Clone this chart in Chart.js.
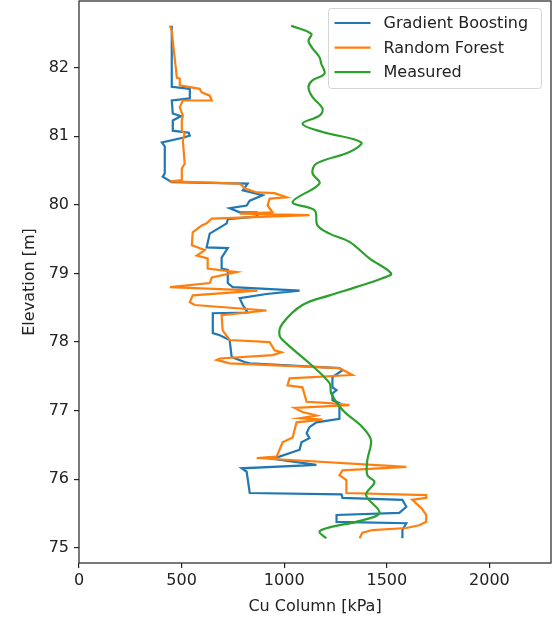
<!DOCTYPE html>
<html>
<head>
<meta charset="utf-8">
<script src="https://cdn.jsdelivr.net/npm/chart.js@4"></script>
<style>
  html, body { margin: 0; padding: 0; background: #fff; }
  #c { display: block; }
</style>
</head>
<body>
<canvas id="c" width="559" height="620"></canvas>
<script>
// tick labels
const xTicks = [0, 500, 1000, 1500, 2000];
const yTicks = [75, 76, 77, 78, 79, 80, 81, 82];

// Gradient Boosting
const gbElev = [82.61, 81.72, 81.69, 81.55, 81.52, 81.33, 81.29, 81.23, 81.08, 81.05,
    81.01, 80.98, 80.91, 80.85, 80.46, 80.41, 80.33, 80.31, 80.21, 80.14,
    80.06, 79.99, 79.95, 79.89, 79.89, 79.83, 79.79, 79.73, 79.58, 79.38,
    79.37, 79.23, 79.07, 79.05, 78.86, 78.80, 78.75, 78.70, 78.64, 78.54,
    78.43, 78.42, 78.13, 78.10, 78.03, 77.78, 77.71, 77.69, 77.62, 77.59,
    77.49, 77.34, 77.30, 77.25, 77.15, 77.11, 76.88, 76.83, 76.76, 76.67,
    76.60, 76.54, 76.43, 76.33, 76.31, 76.21, 76.16, 76.11, 75.80, 75.78,
    75.73, 75.70, 75.60, 75.51, 75.48, 75.38, 75.36, 75.26, 75.14];
const gbCu = [452, 452, 540, 540, 452, 457, 496, 457, 457, 535,
    540, 511, 404, 418, 418, 408, 452, 822, 798, 895,
    832, 817, 734, 783, 866, 870, 725, 720, 637, 622,
    725, 695, 695, 725, 725, 749, 1075, 914, 783, 798,
    822, 652, 652, 686, 734, 744, 807, 832, 1269, 1284,
    1235, 1235, 1255, 1235, 1235, 1269, 1269, 1157, 1123, 1109,
    1123, 1084, 1075, 977, 914, 1157, 793, 817, 832, 1279,
    1284, 1576, 1595, 1561, 1255, 1255, 1595, 1576, 1576];

// Random Forest
const rfElev = [82.61, 82.54, 82.39, 81.85, 81.84, 81.74, 81.69, 81.64, 81.59, 81.52,
    81.52, 81.42, 81.30, 81.23, 81.08, 81.04, 80.94, 80.60, 80.53, 80.36,
    80.34, 80.31, 80.24, 80.18, 80.17, 80.11, 80.09, 79.99, 79.89, 79.87,
    79.85, 79.80, 79.73, 79.70, 79.60, 79.41, 79.34, 79.26, 79.22, 79.07,
    79.02, 78.94, 78.86, 78.80, 78.75, 78.68, 78.58, 78.54, 78.46, 78.39,
    78.17, 78.03, 78.00, 77.88, 77.85, 77.81, 77.76, 77.74, 77.69, 77.62,
    77.52, 77.47, 77.37, 77.34, 77.13, 77.11, 77.08, 77.04, 76.98, 76.93,
    76.89, 76.87, 76.83, 76.61, 76.54, 76.43, 76.33, 76.31, 76.18, 76.13,
    76.06, 75.99, 75.80, 75.77, 75.73, 75.70, 75.58, 75.48, 75.38, 75.33,
    75.29, 75.26, 75.22, 75.14];
const rfCu = [443, 452, 457, 477, 491, 491, 588, 598, 637, 647,
    506, 491, 506, 501, 501, 515, 506, 515, 501, 501,
    443, 783, 807, 866, 953, 1012, 929, 919, 943, 783,
    1123, 647, 622, 598, 554, 550, 613, 574, 627, 627,
    768, 647, 637, 443, 870, 554, 540, 564, 914, 695,
    700, 734, 929, 953, 987, 943, 686, 671, 734, 1269,
    1332, 1026, 1016, 1089, 1109, 1221, 1318, 1050, 1089, 1157,
    1075, 1187, 1060, 1041, 992, 977, 963, 866, 1595, 1284,
    1269, 1303, 1303, 1692, 1692, 1624, 1668, 1692, 1692, 1658,
    1595, 1430, 1381, 1367];

// Measured
const measElev = [82.61, 82.49, 82.39, 82.28, 82.15, 82.06, 81.91, 81.81, 81.71, 81.57,
    81.40, 81.30, 81.18, 81.06, 80.91, 80.77, 80.60, 80.46, 80.31, 80.04,
    79.92, 79.70, 79.58, 79.46, 79.22, 79.00, 78.93, 78.80, 78.68, 78.54,
    78.27, 78.10, 77.98, 77.69, 77.40, 77.25, 77.01, 76.76, 76.57, 76.28,
    76.06, 75.96, 75.77, 75.51, 75.38, 75.31, 75.24, 75.14];
const measCu = [1034, 1132, 1118, 1138, 1172, 1180, 1196, 1136, 1118, 1138,
    1187, 1172, 1089, 1187, 1375, 1318, 1156, 1138, 1172, 1041,
    1148, 1162, 1221, 1318, 1415, 1521, 1478, 1350, 1221, 1089,
    992, 977, 1010, 1123, 1221, 1229, 1284, 1381, 1423, 1405,
    1405, 1440, 1399, 1464, 1350, 1235, 1172, 1205];

const toPoints = (cu, elev) => cu.map((v, i) => ({ x: v, y: elev[i] }));

const font = { family: "'DejaVu Sans', sans-serif", size: 16 };
const ink = '#222';

// matplotlib-style frame + legend box in the upper right
const frameAndLegend = {
    id: 'frameAndLegend',
    afterDraw(chart) {
        const { ctx, chartArea: a } = chart;
        ctx.save();
        ctx.strokeStyle = ink;
        ctx.lineWidth = 1.2;
        ctx.strokeRect(a.left, a.top, a.right - a.left, a.bottom - a.top);

        const bx = a.right - 222.5, by = a.top + 7.5, bw = 213, bh = 80, r = 3;
        ctx.beginPath();
        ctx.moveTo(bx + r, by);
        ctx.arcTo(bx + bw, by, bx + bw, by + bh, r);
        ctx.arcTo(bx + bw, by + bh, bx, by + bh, r);
        ctx.arcTo(bx, by + bh, bx, by, r);
        ctx.arcTo(bx, by, bx + bw, by, r);
        ctx.closePath();
        ctx.fillStyle = 'rgba(255,255,255,0.8)';
        ctx.fill();
        ctx.strokeStyle = '#d5d5d5';
        ctx.lineWidth = 1;
        ctx.stroke();

        ctx.font = "16px 'DejaVu Sans', sans-serif";
        ctx.textBaseline = 'middle';
        ctx.fillStyle = ink;
        chart.data.datasets.forEach((ds, i) => {
            const y = by + 14.5 + i * 24.6;
            ctx.beginPath();
            ctx.moveTo(bx + 6, y);
            ctx.lineTo(bx + 42, y);
            ctx.strokeStyle = ds.borderColor;
            ctx.lineWidth = 2.2;
            ctx.stroke();
            ctx.fillText(ds.label, bx + 55, y + 1);
        });
        ctx.restore();
    }
};

new Chart(document.getElementById('c'), {
    type: 'scatter',
    data: {
        datasets: [
            {
                label: 'Gradient Boosting',
                data: toPoints(gbCu, gbElev),
                borderColor: '#1f77b4',
                order: 2
            },
            {
                label: 'Random Forest',
                data: toPoints(rfCu, rfElev),
                borderColor: '#ff7f0e',
                order: 1
            },
            {
                label: 'Measured',
                data: toPoints(measCu, measElev),
                borderColor: '#2ca02c',
                tension: 0.35,
                order: 0
            }
        ]
    },
    options: {
        responsive: false,
        animation: false,
        devicePixelRatio: 1,
        showLine: true,
        datasets: {
            scatter: { showLine: true, pointRadius: 0, borderWidth: 2.2, fill: false }
        },
        layout: { padding: { top: 1, right: 8, left: 0, bottom: 0 } },
        plugins: {
            legend: { display: false },
            tooltip: { enabled: false }
        },
        scales: {
            x: {
                type: 'linear',
                min: 0,
                max: 2300,
                afterBuildTicks: s => { s.ticks = xTicks.map(v => ({ value: v })); },
                afterFit: s => { s.height = 57; s.paddingLeft = 0; s.paddingRight = 0; },
                border: { display: false },
                grid: { drawOnChartArea: false, tickLength: 5, color: ink, lineWidth: 1.2 },
                ticks: { padding: 3, color: ink, font: font, maxRotation: 0, callback: v => String(v) },
                title: { display: true, text: 'Cu Column [kPa]', color: ink, font: font, padding: { top: 0, bottom: 4 } }
            },
            y: {
                type: 'linear',
                min: 74.78,
                max: 82.97,
                afterBuildTicks: s => { s.ticks = yTicks.map(v => ({ value: v })); },
                afterFit: s => { s.width = 79; s.paddingTop = 0; s.paddingBottom = 0; },
                border: { display: false },
                grid: { drawOnChartArea: false, tickLength: 5, color: ink, lineWidth: 1.2 },
                ticks: { padding: 5, color: ink, font: font, callback: v => String(v) },
                title: { display: true, text: 'Elevation [m]', color: ink, font: font, padding: { top: 20, bottom: 0 } }
            }
        }
    },
    plugins: [frameAndLegend]
});
</script>
</body>
</html>
